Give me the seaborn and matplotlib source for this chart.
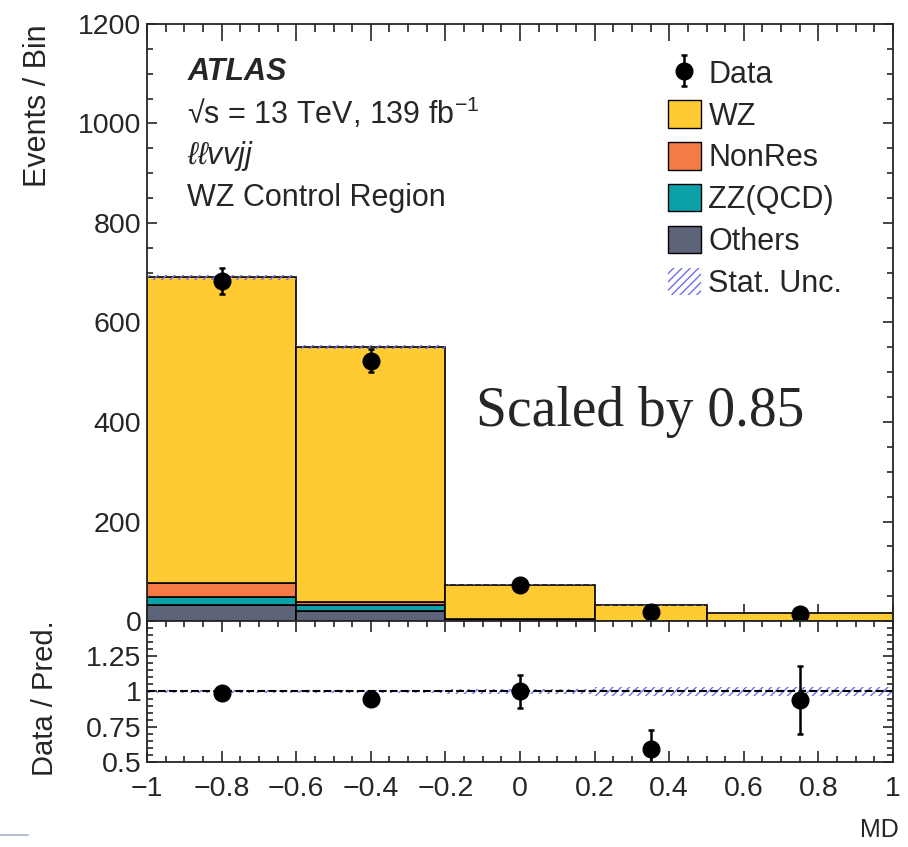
import numpy as np
import pandas as pd
import matplotlib
matplotlib.use("Agg")
import matplotlib.pyplot as plt
import seaborn as sns
from matplotlib.patches import Patch
from matplotlib.lines import Line2D
from matplotlib.ticker import MultipleLocator, FixedLocator

# ---------------- data ----------------
bin_edges = [-1.0, -0.6, -0.2, 0.2, 0.5, 1.0]
bin_centers = [-0.8, -0.4, 0.0, 0.35, 0.75]
processes = ["WZ", "NonRes", "ZZ(QCD)", "Others"]
wz_counts = [615, 512, 69.5, 31, 15.4]
nonres_counts = [27, 7, 0.7, 0.2, 0.1]
zzqcd_counts = [17, 12, 0.8, 0.3, 0.2]
others_counts = [32, 20, 2.0, 0.5, 0.3]
data_counts = [683, 523, 73, 19, 15]
stat_unc = [5, 4, 1.5, 1.0, 0.5]
colors = ["#FFCB33", "#F47B46", "#0AA1A8", "#5D6479"]
xtick_vals = [-1, -0.8, -0.6, -0.4, -0.2, 0, 0.2, 0.4, 0.6, 0.8, 1]
xtick_labels = ["\u22121", "\u22120.8", "\u22120.6", "\u22120.4", "\u22120.2", "0",
                "0.2", "0.4", "0.6", "0.8", "1"]
ratio_ticks = [0.5, 0.75, 1.0, 1.25, 1.5]
ratio_labels = ["0.5", "0.75", "1", "1.25", ""]

# ---------------- style ----------------
sns.set_style("ticks")
plt.rcParams["font.family"] = ["Liberation Sans", "DejaVu Sans"]
plt.rcParams["mathtext.fontset"] = "custom"
plt.rcParams["mathtext.rm"] = "Liberation Sans"
plt.rcParams["mathtext.it"] = "Liberation Sans:italic"
plt.rcParams["mathtext.bf"] = "Liberation Sans:bold"
plt.rcParams["hatch.linewidth"] = 1.0
FS = 22      # annotation / legend text
TFS = 20.5   # tick labels
LFS = 22     # axis labels

fig = plt.figure(figsize=(9.08, 8.47), dpi=100)
ax1 = fig.add_axes([0.1619, 0.2668, 0.8216, 0.7049])
ax2 = fig.add_axes([0.1619, 0.1004, 0.8216, 0.1664])

edges = np.array(bin_edges)
centers = np.array(bin_centers)
comp = [np.array(wz_counts), np.array(nonres_counts), np.array(zzqcd_counts), np.array(others_counts)]
total = sum(comp)
data = np.array(data_counts)
unc = np.array(stat_unc)

df = pd.DataFrame({
    "MD": np.tile(centers, len(processes)),
    "w": np.concatenate(comp),
    "process": np.repeat(processes, len(centers)),
})
sns.histplot(data=df, x="MD", weights="w", hue="process", hue_order=processes,
             bins=list(bin_edges), multiple="stack", element="bars", palette=colors,
             edgecolor="black", linewidth=1.2, alpha=1, ax=ax1, legend=False)

hatch_col = "#6F6FF0"
ax1.stairs(total + unc, edges, baseline=total - unc, fill=True, facecolor="none",
           edgecolor=hatch_col, hatch="////", linewidth=0)
eb = ax1.errorbar(centers, data, yerr=np.sqrt(data), fmt="o", color="black",
                  markersize=12, elinewidth=1.8, capsize=2.5, capthick=1.8)

ax1.set_xlim(-1, 1)
ax1.set_ylim(0, 1200)
ax1.set_xlabel("")
ax1.set_ylabel("Events / Bin", fontsize=LFS, loc="top")
ax1.yaxis.set_label_coords(-0.126, 1.0)
ax1.yaxis.set_major_locator(MultipleLocator(200))
ax1.yaxis.set_minor_locator(MultipleLocator(50))
ax1.xaxis.set_major_locator(FixedLocator(xtick_vals))
ax1.xaxis.set_minor_locator(MultipleLocator(0.05))
ax1.set_xticklabels([])
ax1.tick_params(axis="both", which="both", direction="in", top=True, right=True,
                labelsize=TFS, width=1.2)
ax1.tick_params(axis="x", which="major", length=12)
ax1.tick_params(axis="x", which="minor", length=6)
ax1.tick_params(axis="y", which="major", length=7, pad=4)
ax1.tick_params(axis="y", which="minor", length=4)
for s in ax1.spines.values():
    s.set_linewidth(1.3)

# labels text
ax1.text(0.054, 0.92, "ATLAS", transform=ax1.transAxes, fontsize=FS,
         fontweight="bold", fontstyle="italic", va="center")
ax1.text(0.054, 0.851, "\u221As = 13 TeV, 139 fb$^{-1}$", transform=ax1.transAxes,
         fontsize=FS, va="center")
ax1.text(0.054, 0.779, r"$\ell\ell\mathit{vvjj}$", transform=ax1.transAxes,
         fontsize=FS, va="center")
ax1.text(0.054, 0.709, "WZ Control Region", transform=ax1.transAxes,
         fontsize=FS, va="center")
ax1.text(0.661, 0.35, "Scaled by 0.85", transform=ax1.transAxes, fontsize=40,
         family=["Liberation Serif", "DejaVu Serif"], ha="center", va="center")

handles = [eb] + [Patch(facecolor=c, edgecolor="black", linewidth=1) for c in colors] + \
          [Patch(facecolor="none", edgecolor=hatch_col, hatch="////", linewidth=0)]
labels = ["Data"] + processes + ["Stat. Unc."]
ax1.legend(handles, labels, loc="upper left", bbox_to_anchor=(0.698, 0.942),
           frameon=False, fontsize=FS, handlelength=1.08, handleheight=1.0,
           labelspacing=0.35, handletextpad=0.25, borderaxespad=0, borderpad=0)

# ---------------- ratio ----------------
rel = unc / total
ax2.stairs(1 + rel, edges, baseline=1 - rel, fill=True, facecolor="none",
           edgecolor=hatch_col, hatch="////", linewidth=0)
ax2.axhline(1.0, color="black", linestyle="--", linewidth=1.5)
ratio = data / total
ratio_err = np.sqrt(data) / total
ax2.errorbar(centers, ratio, yerr=ratio_err, fmt="o", color="black",
             markersize=12, elinewidth=1.8, capsize=2.5, capthick=1.8)
ax2.set_xlim(-1, 1)
ax2.set_ylim(0.5, 1.5)
ax2.set_ylabel("Data / Pred.", fontsize=21)
ax2.yaxis.set_label_coords(-0.118, 0.45)
ax2.set_yticks(ratio_ticks)
ax2.set_yticklabels(ratio_labels)
ax2.yaxis.set_minor_locator(MultipleLocator(0.05))
ax2.set_xticks(xtick_vals)
ax2.set_xticklabels(xtick_labels)
ax2.xaxis.set_minor_locator(MultipleLocator(0.05))
ax2.tick_params(axis="both", which="both", direction="in", top=True, right=True,
                labelsize=TFS, width=1.2)
ax2.tick_params(axis="x", which="major", length=8, pad=10)
ax2.tick_params(axis="x", which="minor", length=4)
ax2.tick_params(axis="y", which="major", length=7, pad=4)
ax2.tick_params(axis="y", which="minor", length=4)
for s in ax2.spines.values():
    s.set_linewidth(1.3)

fig.text(0.969, 0.020, "MD", fontsize=18, ha="center", va="center")
fig.add_artist(Line2D([0.0, 0.031], [0.0142, 0.0142], color="#A9B4C8", linewidth=1.2))

fig.savefig("out.png", dpi=100)
